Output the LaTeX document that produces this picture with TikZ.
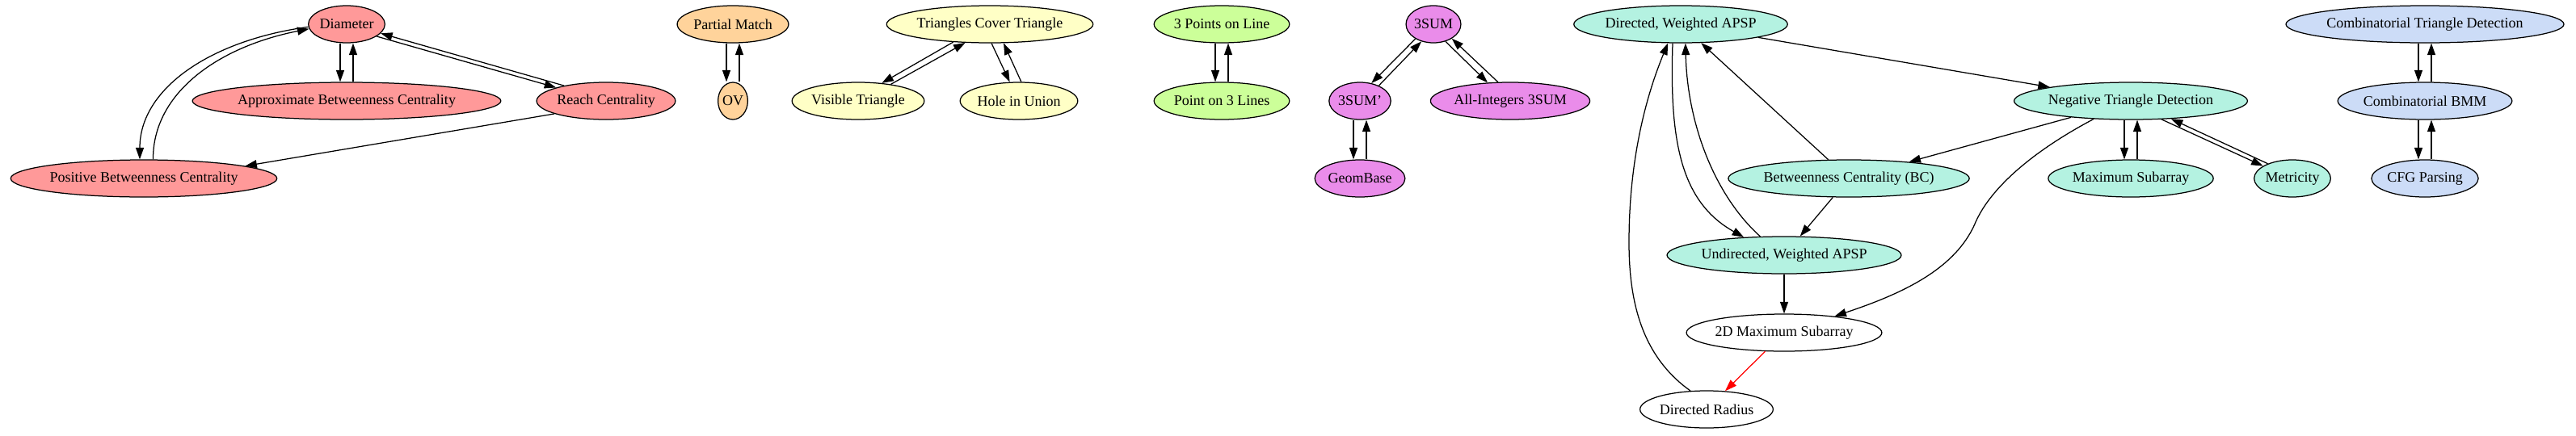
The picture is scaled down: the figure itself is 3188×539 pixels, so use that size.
\documentclass[tikz,border=0pt]{standalone}
\usepackage{fontspec}
\setmainfont{Liberation Serif}
\usetikzlibrary{shapes.geometric,arrows.meta}
\definecolor{cred}{HTML}{FF9999}
\definecolor{corange}{HTML}{FFD39B}
\definecolor{cyellow}{HTML}{FFFFC6}
\definecolor{cgreen}{HTML}{CCFF99}
\definecolor{cmag}{HTML}{EA8CEA}
\definecolor{cteal}{HTML}{B4F2E1}
\definecolor{cblue}{HTML}{CCDCF7}
\newlength\gvw
\newcommand\gvfont{\fontsize{18}{21}\selectfont}
\newcommand\gvnode[4]{\settowidth\gvw{\gvfont #4}\node[gv, fill=#3, minimum width={1.375*\gvw+28.3pt}] (#1) at (#2) {#4};}
\begin{document}
\begin{tikzpicture}[x=1pt,y=-1pt,
  gv/.style={ellipse, draw, line width=1.25pt, minimum height=46pt, inner sep=0pt, font=\gvfont},
  e/.style={-{Triangle[length=14.5pt,width=10pt]}, line width=1.25pt}]
\useasboundingbox (0,0) rectangle (3188,539);
% red
\gvnode{Dia}{429,30}{cred}{Diameter}
\gvnode{ABC}{429,125}{cred}{Approximate Betweenness Centrality}
\gvnode{RC}{750,125}{cred}{Reach Centrality}
\gvnode{PBC}{178,221}{cred}{Positive Betweenness Centrality}
% orange
\gvnode{PM}{907,30}{corange}{Partial Match}
\gvnode{OV}{907,125}{corange}{OV}
% yellow
\gvnode{TCT}{1225,30}{cyellow}{Triangles Cover Triangle}
\gvnode{VT}{1062,125}{cyellow}{Visible Triangle}
\gvnode{HU}{1261,125}{cyellow}{Hole in Union}
% green
\gvnode{PL}{1512,30}{cgreen}{3 Points on Line}
\gvnode{PLL}{1512,125}{cgreen}{Point on 3 Lines}
% magenta
\gvnode{S}{1774,30}{cmag}{3SUM}
\gvnode{Sp}{1683,125}{cmag}{3SUM'}
\gvnode{AI}{1869,125}{cmag}{All-Integers 3SUM}
\gvnode{GB}{1683,221}{cmag}{GeomBase}
% teal
\gvnode{DW}{2080,30}{cteal}{Directed, Weighted APSP}
\gvnode{NTD}{2637,125}{cteal}{Negative Triangle Detection}
\gvnode{BC}{2288,221}{cteal}{Betweenness Centrality (BC)}
\gvnode{MS}{2637,221}{cteal}{Maximum Subarray}
\gvnode{Met}{2837,221}{cteal}{Metricity}
\gvnode{UW}{2208,316}{cteal}{Undirected, Weighted APSP}
\gvnode{MSB}{2208,412}{white}{2D Maximum Subarray}
\gvnode{DR}{2112,507}{white}{Directed Radius}
% blue
\gvnode{CTD}{3001,30}{cblue}{Combinatorial Triangle Detection}
\gvnode{BMM}{3001,125}{cblue}{Combinatorial BMM}
\gvnode{CFG}{3001,221}{cblue}{CFG Parsing}

% red edges
\draw[e] ([xshift=-8pt]Dia.south) -- ([xshift=-8pt]ABC.north);
\draw[e] ([xshift=8pt]ABC.north) -- ([xshift=8pt]Dia.south);
\draw[e] (Dia.-22) -- (RC.165);
\draw[e] (RC.160) -- (Dia.-15);
\draw[e] (Dia.184) .. controls (260,50) and (173,110) .. (PBC.102);
\draw[e] (PBC.64) .. controls (189,115) and (270,58) .. (Dia.187);
\draw[e] (RC.194) -- (PBC.7);
% orange
\draw[e] ([xshift=-8pt]PM.south) -- ([xshift=-8pt]OV.north);
\draw[e] ([xshift=8pt]OV.north) -- ([xshift=8pt]PM.south);
% yellow
\draw[e] (TCT.206) -- (VT.37);
\draw[e] (VT.27) -- (TCT.217);
\draw[e] (TCT.-85) -- (HU.116);
\draw[e] (HU.83) -- (TCT.-54);
% green
\draw[e] ([xshift=-8pt]PL.south) -- ([xshift=-8pt]PLL.north);
\draw[e] ([xshift=8pt]PLL.north) -- ([xshift=8pt]PL.south);
% magenta
\draw[e] (S.219) -- (Sp.57);
\draw[e] (Sp.39) -- (S.235);
\draw[e] (S.-55) -- (AI.141);
\draw[e] (AI.123) -- (S.-38);
\draw[e] ([xshift=-8pt]Sp.south) -- ([xshift=-8pt]GB.north);
\draw[e] ([xshift=8pt]GB.north) -- ([xshift=8pt]Sp.south);
% teal
\draw[e] (DW) -- (NTD);
\draw[e] (NTD) -- (BC);
\draw[e] (BC) -- (DW);
\draw[e] ([xshift=-8pt]NTD.south) -- ([xshift=-8pt]MS.north);
\draw[e] ([xshift=8pt]MS.north) -- ([xshift=8pt]NTD.south);
\draw[e] (NTD.-31) -- (Met.157);
\draw[e] (Met.149) -- (NTD.-24);
\draw[e] (BC) -- (UW);
\draw[e] (DW.247) .. controls (2066,175) and (2080,250) .. (UW.156);
\draw[e] (UW.142) .. controls (2120,240) and (2088,150) .. (DW.-76);
\draw[e] (UW) -- (MSB);
\coordinate (k1) at (2445,275);
\draw[e] (NTD.206) .. controls (2520,185) and (2465,230) .. (k1)
  .. controls (2420,335) and (2350,365) .. (MSB.18);
\draw[e, red] (MSB) -- (DR);
\coordinate (k2) at (2016,300);
\draw[e] (DR.131) .. controls (2030,440) and (2016,370) .. (k2)
  .. controls (2016,180) and (2045,100) .. (DW.236);
% blue
\draw[e] ([xshift=-8pt]CTD.south) -- ([xshift=-8pt]BMM.north);
\draw[e] ([xshift=8pt]BMM.north) -- ([xshift=8pt]CTD.south);
\draw[e] ([xshift=-8pt]BMM.south) -- ([xshift=-8pt]CFG.north);
\draw[e] ([xshift=8pt]CFG.north) -- ([xshift=8pt]BMM.south);
\end{tikzpicture}
\end{document}
